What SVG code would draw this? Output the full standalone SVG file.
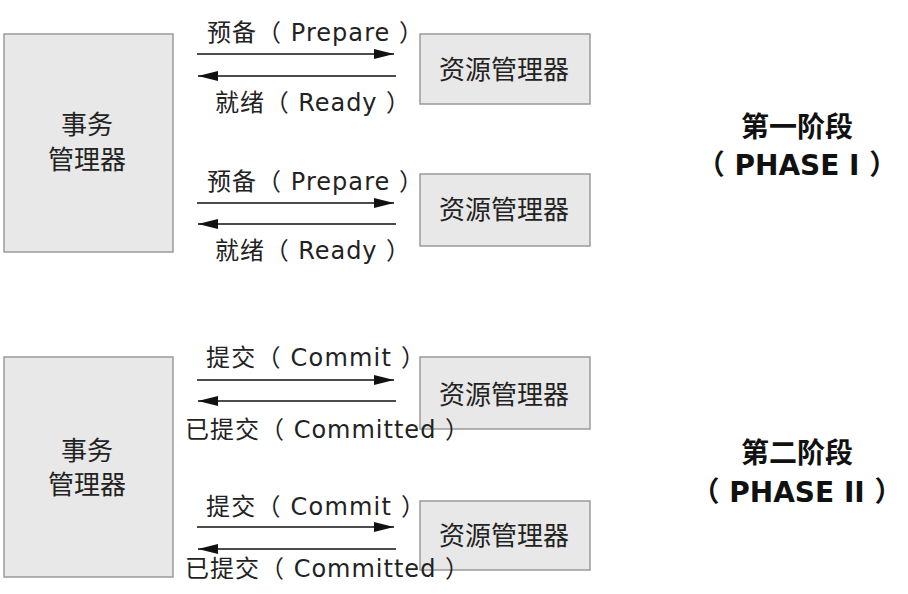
<svg xmlns="http://www.w3.org/2000/svg" width="908" height="594" viewBox="0 0 908 594">
<style>
.box{fill:#e8e8e8;stroke:#9a9a9a;stroke-width:1.5}
.t{font-family:"DejaVu Sans","Noto Sans CJK SC",sans-serif;font-size:24px;fill:#222}
.n{font-family:"Noto Sans CJK SC",sans-serif;font-size:26px;fill:#222;text-anchor:middle}
.p{font-family:"DejaVu Sans","Noto Sans CJK SC",sans-serif;font-size:28px;font-weight:bold;fill:#111;text-anchor:middle}
.a{stroke:#111;stroke-width:1.6;fill:none;marker-end:url(#ah)}
</style>
<defs>
<marker id="ah" markerUnits="userSpaceOnUse" markerWidth="20" markerHeight="10" refX="20" refY="5" orient="auto">
<path d="M0,0 L20,5 L0,10 z" fill="#111"/>
</marker>
</defs>
<rect width="908" height="594" fill="#fff"/>
<g id="tm1"><rect class="box" x="4" y="34" width="169" height="218"/><text class="n" x="87" y="134">事务</text><text class="n" x="87" y="169">管理器</text></g>
<g id="rm1"><rect class="box" x="420" y="34" width="170" height="70"/><text class="n" x="504" y="79">资源管理器</text></g>
<g id="rm2"><rect class="box" x="420" y="174" width="170" height="72"/><text class="n" x="504" y="219">资源管理器</text></g>
<g id="tm2"><rect class="box" x="4" y="357" width="169" height="220"/><text class="n" x="87" y="460">事务</text><text class="n" x="87" y="494">管理器</text></g>
<g id="rm3"><rect class="box" x="420" y="357" width="170" height="72"/><text class="n" x="504" y="404">资源管理器</text></g>
<g id="rm4"><rect class="box" x="420" y="501" width="170" height="69"/><text class="n" x="504" y="545">资源管理器</text></g>
<g id="connectors">
<line class="a" x1="197" y1="54" x2="394" y2="54"/>
<line class="a" x1="396" y1="76" x2="198" y2="76"/>
<line class="a" x1="197" y1="203" x2="394" y2="203"/>
<line class="a" x1="396" y1="224" x2="198" y2="224"/>
<line class="a" x1="197" y1="380" x2="394" y2="380"/>
<line class="a" x1="396" y1="401" x2="198" y2="401"/>
<line class="a" x1="197" y1="527" x2="394" y2="527"/>
<line class="a" x1="396" y1="549" x2="198" y2="549"/>
</g>
<g id="labels">
<text class="t" x="207" y="41" textLength="216" lengthAdjust="spacing">预备（ Prepare ）</text>
<text class="t" x="215" y="111" textLength="195" lengthAdjust="spacing">就绪（ Ready ）</text>
<text class="t" x="207" y="190" textLength="216" lengthAdjust="spacing">预备（ Prepare ）</text>
<text class="t" x="215" y="259" textLength="195" lengthAdjust="spacing">就绪（ Ready ）</text>
<text class="t" x="206" y="366" textLength="219" lengthAdjust="spacing">提交（ Commit ）</text>
<text class="t" x="185" y="438" textLength="284" lengthAdjust="spacing">已提交（ Committed ）</text>
<text class="t" x="206" y="515" textLength="219" lengthAdjust="spacing">提交（ Commit ）</text>
<text class="t" x="185" y="577" textLength="284" lengthAdjust="spacing">已提交（ Committed ）</text>
</g>
<g id="phase1"><text class="p" x="797" y="137">第一阶段</text><text class="p" x="797" y="175">（ PHASE I ）</text></g>
<g id="phase2"><text class="p" x="797" y="463">第二阶段</text><text class="p" x="797" y="502">（ PHASE II ）</text></g>
</svg>
